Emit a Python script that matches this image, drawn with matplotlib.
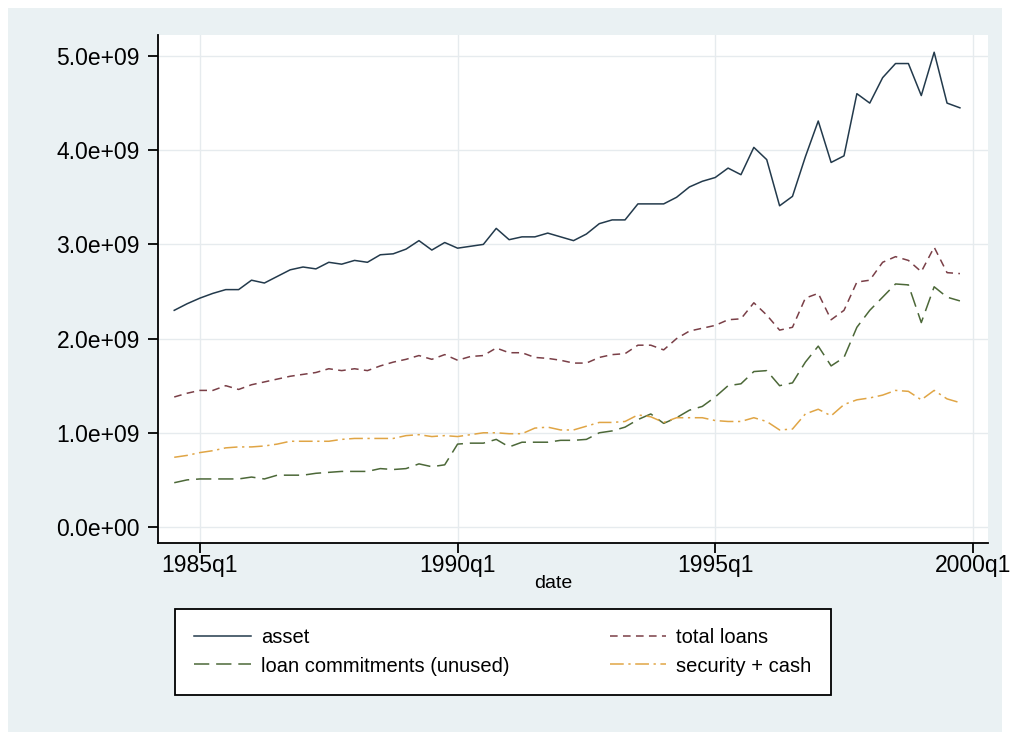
import numpy as np
import pandas as pd
import matplotlib
matplotlib.use('Agg')
import matplotlib.pyplot as plt
from matplotlib.patches import Rectangle

#* Datos trimestrales (miles de millones)
periodos = pd.period_range('1984Q3', '1999Q4', freq='Q')

asset = [2.30, 2.37, 2.43, 2.48, 2.52, 2.52, 2.62, 2.59, 2.66, 2.73,
         2.76, 2.74, 2.81, 2.79, 2.83, 2.81, 2.89, 2.90, 2.95, 3.04,
         2.94, 3.02, 2.96, 2.98, 3.00, 3.17, 3.05, 3.08, 3.08, 3.12,
         3.08, 3.04, 3.11, 3.22, 3.26, 3.26, 3.43, 3.43, 3.43, 3.50,
         3.61, 3.67, 3.71, 3.81, 3.74, 4.03, 3.90, 3.41, 3.51, 3.93,
         4.31, 3.87, 3.94, 4.60, 4.50, 4.77, 4.92, 4.92, 4.58, 5.04,
         4.50, 4.45]

total_loans = [1.38, 1.42, 1.45, 1.45, 1.50, 1.46, 1.51, 1.54, 1.57, 1.60,
               1.62, 1.64, 1.68, 1.66, 1.68, 1.66, 1.71, 1.75, 1.78, 1.82,
               1.78, 1.83, 1.77, 1.81, 1.82, 1.90, 1.85, 1.85, 1.80, 1.79,
               1.77, 1.74, 1.74, 1.80, 1.83, 1.84, 1.93, 1.93, 1.88, 2.00,
               2.08, 2.11, 2.14, 2.20, 2.21, 2.38, 2.25, 2.09, 2.12, 2.43,
               2.48, 2.20, 2.30, 2.60, 2.62, 2.81, 2.87, 2.83, 2.71, 2.97,
               2.70, 2.69]

commitments = [0.47, 0.50, 0.51, 0.51, 0.51, 0.51, 0.53, 0.51, 0.55, 0.55,
               0.55, 0.57, 0.58, 0.59, 0.59, 0.59, 0.62, 0.61, 0.62, 0.67,
               0.64, 0.66, 0.88, 0.89, 0.89, 0.93, 0.85, 0.90, 0.90, 0.90,
               0.92, 0.92, 0.93, 1.00, 1.02, 1.06, 1.14, 1.20, 1.10, 1.16,
               1.24, 1.28, 1.38, 1.50, 1.52, 1.65, 1.66, 1.50, 1.53, 1.75,
               1.92, 1.71, 1.80, 2.12, 2.30, 2.44, 2.58, 2.57, 2.17, 2.55,
               2.44, 2.40]

security_cash = [0.74, 0.76, 0.79, 0.81, 0.84, 0.85, 0.85, 0.86, 0.88, 0.91,
                 0.91, 0.91, 0.91, 0.93, 0.94, 0.94, 0.94, 0.94, 0.97, 0.98,
                 0.96, 0.97, 0.96, 0.98, 1.00, 1.00, 0.99, 0.99, 1.05, 1.06,
                 1.03, 1.03, 1.07, 1.11, 1.11, 1.12, 1.19, 1.17, 1.11, 1.16,
                 1.16, 1.16, 1.13, 1.12, 1.12, 1.16, 1.12, 1.03, 1.04, 1.20,
                 1.25, 1.18, 1.30, 1.35, 1.37, 1.40, 1.45, 1.44, 1.35, 1.45,
                 1.36, 1.32]

xticks_txt = ['1985q1', '1990q1', '1995q1', '2000q1']
yticks_val = [0, 1e9, 2e9, 3e9, 4e9, 5e9]


def trimestre(p):
    # numeracion tipo Stata: 1960q1 = 0
    return (p.year - 1960) * 4 + (p.quarter - 1)


x = np.array([trimestre(p) for p in periodos])
xticks = [trimestre(pd.Period(t.replace('q', 'Q'), freq='Q')) for t in xticks_txt]

plt.rcParams['font.family'] = ['Liberation Sans', 'DejaVu Sans']

W, H = 1010, 740
fig = plt.figure(figsize=(W / 100, H / 100), dpi=100, facecolor='white')

#* fondo del grafico
fig.patches.append(Rectangle((8 / W, 8 / H), 1 - 16 / W, 1 - 16 / H,
                             transform=fig.transFigure, facecolor='#eaf1f3',
                             edgecolor='none', zorder=-10))

ax = fig.add_axes([158 / W, 1 - 543 / H, 830 / W, 508 / H])
ax.set_facecolor('white')

l1, = ax.plot(x, np.array(asset) * 1e9, color='#233a4c', lw=1.1, label='asset')
l2, = ax.plot(x, np.array(total_loans) * 1e9, color='#7a3f47', lw=1.1,
              dashes=(5, 3.5), label='total loans')
l3, = ax.plot(x, np.array(commitments) * 1e9, color='#4c6838', lw=1.1,
              dashes=(10, 4.5), label='loan commitments (unused)')
l4, = ax.plot(x, np.array(security_cash) * 1e9, color='#e0a545', lw=1.1,
              dashes=(9, 3, 1.5, 3), label='security + cash')

ax.set_xlim(96.74, 161.18)
ax.set_ylim(-0.17e9, 5.223e9)

ax.set_xticks(xticks)
ax.set_xticklabels(xticks_txt)
ax.set_yticks(yticks_val)
ax.set_yticklabels(['{:.1e}'.format(v) for v in yticks_val])

ax.grid(True, color='#e6ebee', lw=1.0)
ax.set_axisbelow(True)

for s in ['top', 'right']:
    ax.spines[s].set_visible(False)
for s in ['left', 'bottom']:
    ax.spines[s].set_linewidth(1.3)
    ax.spines[s].set_color('black')

ax.tick_params(axis='both', length=7, width=1.3, color='black', labelsize=16.5)
ax.tick_params(axis='y', pad=6)
ax.tick_params(axis='x', pad=1)

fig.text(553 / W, 1 - 584 / H, 'date', ha='center', va='center', fontsize=14)

#* leyenda
leg = fig.legend(handles=[l1, l3, l2, l4], ncol=2, loc='center',
                 bbox_to_anchor=(503 / W, 1 - 652 / H), fontsize=14.5,
                 frameon=True, fancybox=False, framealpha=1,
                 edgecolor='black', handlelength=2.8, handletextpad=0.5,
                 columnspacing=5.0, labelspacing=0.45, borderpad=0.95,
                 borderaxespad=0)
leg.get_frame().set_linewidth(1.3)

fig.savefig('out.png', dpi=100, facecolor=fig.get_facecolor())
